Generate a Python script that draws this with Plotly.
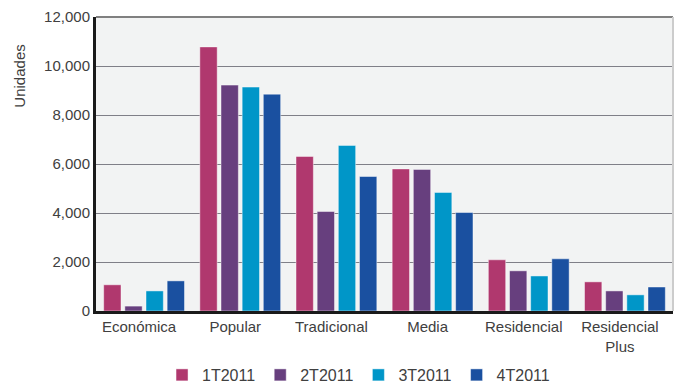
import plotly.graph_objects as go

categories = ["Económica", "Popular", "Tradicional", "Media", "Residencial", "Residencial<br>Plus"]
series_names = ["1T2011", "2T2011", "3T2011", "4T2011"]
v_1t = [1070, 10780, 6310, 5800, 2090, 1190]
v_2t = [200, 9220, 4060, 5780, 1640, 820]
v_3t = [820, 9140, 6760, 4840, 1430, 660]
v_4t = [1230, 8850, 5490, 4020, 2130, 980]
colors = ["#B0386E", "#673F7E", "#0096C8", "#1A50A0"]
y_ticks = [0, 2000, 4000, 6000, 8000, 10000, 12000]

fig = go.Figure()
for name, vals, col in zip(series_names, [v_1t, v_2t, v_3t, v_4t], colors):
    fig.add_trace(go.Bar(name=name, x=categories, y=vals,
                         marker=dict(color=col, line=dict(color="rgba(255,255,255,0.45)", width=1))))

fig.update_layout(
    width=683, height=385,
    margin=dict(l=96, r=10, t=17, b=74, autoexpand=False),
    paper_bgcolor="white", plot_bgcolor="#F2F3F3",
    barmode="group", bargap=0.12, bargroupgap=0.18,
    font=dict(family="Liberation Sans, Arial, sans-serif", size=15, color="#404040"),
    showlegend=True,
    legend=dict(orientation="h", x=0.455, xanchor="center", yref="container", y=0.026,
                yanchor="middle",
                font=dict(size=16, color="#404040"), itemwidth=30, tracegroupgap=0,
                bgcolor="rgba(0,0,0,0)"),
    xaxis=dict(showgrid=False, showline=True, linecolor="#1A1A1A", linewidth=3,
               ticks="", ticklabelshift=-5, tickfont=dict(size=15, color="#404040")),
    yaxis=dict(range=[0, 12000], tickvals=y_ticks, tickformat=",", showgrid=True,
               gridcolor="#7F7F87", gridwidth=1, showline=True, linecolor="#1A1A1A",
               linewidth=3, ticks="", zeroline=False,
               tickfont=dict(size=15, color="#404040")),
)
fig.add_shape(type="line", xref="paper", yref="paper", x0=0, x1=1, y0=1, y1=1,
              line=dict(color="#808080", width=2))
fig.add_shape(type="line", xref="paper", yref="paper", x0=1, x1=1, y0=0, y1=1,
              line=dict(color="#CCCCCC", width=2))
fig.add_annotation(text="Unidades", xref="paper", yref="paper", x=-0.132, y=0.80,
                   textangle=-90, showarrow=False, font=dict(size=15, color="#404040"),
                   xanchor="center", yanchor="middle")
fig.write_html("out.html")
